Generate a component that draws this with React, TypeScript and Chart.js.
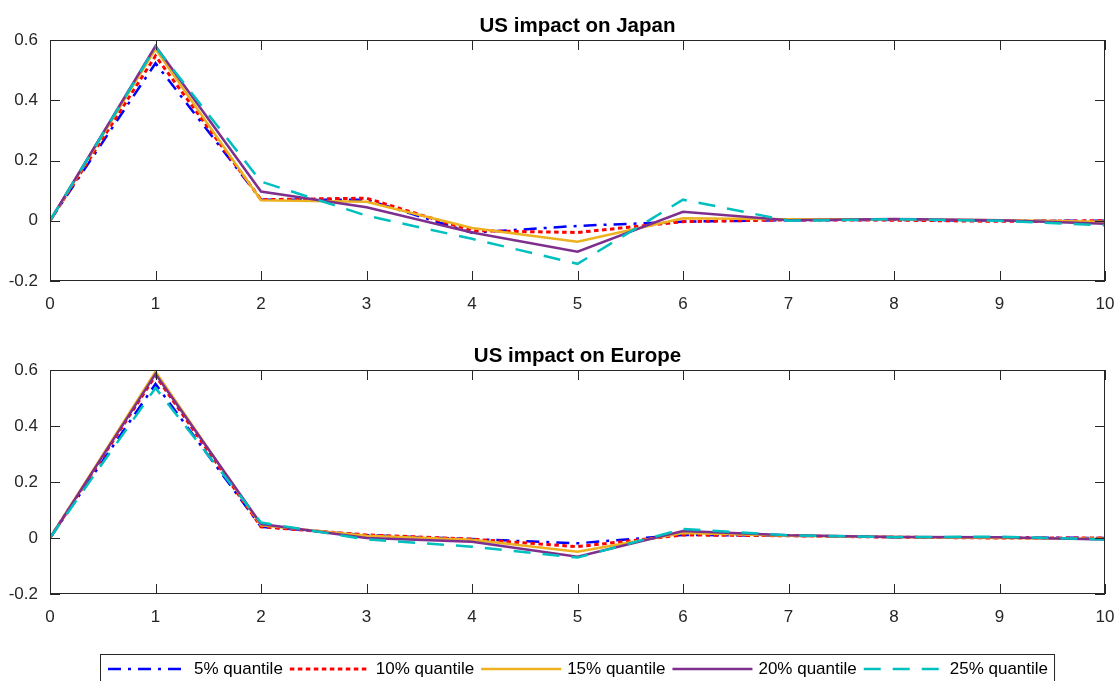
import { useEffect, useRef } from "react";
import { Chart, registerables } from "chart.js";

Chart.register(...registerables);

// Impulse-response horizons and axis ticks
const horizons = [0, 1, 2, 3, 4, 5, 6, 7, 8, 9, 10];
const yTicks = [-0.2, 0, 0.2, 0.4, 0.6];
const seriesNames = ["5% quantile", "10% quantile", "15% quantile", "20% quantile", "25% quantile"];

// US impact on Japan, by quantile
const japanQ5 = [0, 0.523, 0.07, 0.07, -0.04, -0.017, -0.003, 0.002, 0.003, 0.0, 0.0];
const japanQ10 = [0, 0.547, 0.07, 0.075, -0.033, -0.039, -0.003, 0.003, 0.002, -0.002, 0.0];
const japanQ15 = [0, 0.57, 0.068, 0.063, -0.024, -0.07, 0.008, 0.005, 0.005, 0.002, -0.003];
const japanQ20 = [0, 0.58, 0.097, 0.045, -0.039, -0.103, 0.03, 0.002, 0.006, 0.002, -0.01];
const japanQ25 = [0, 0.577, 0.13, 0.017, -0.06, -0.143, 0.07, 0.0, 0.005, 0.0, -0.015];

// US impact on Europe, by quantile
const europeQ5 = [0, 0.55, 0.04, 0.01, -0.004, -0.019, 0.011, 0.008, 0.003, 0.002, 0.0];
const europeQ10 = [0, 0.58, 0.04, 0.011, -0.004, -0.031, 0.011, 0.008, 0.003, 0.0, 0.0];
const europeQ15 = [0, 0.594, 0.045, 0.008, -0.006, -0.049, 0.018, 0.008, 0.004, 0.0, -0.003];
const europeQ20 = [0, 0.586, 0.05, 0.0, -0.013, -0.067, 0.025, 0.01, 0.004, 0.003, -0.005];
const europeQ25 = [0, 0.536, 0.055, -0.005, -0.031, -0.07, 0.032, 0.01, 0.003, 0.005, -0.005];

const lineStyles = [
  { color: "#0000ff", dash: [13, 7, 3, 7], width: 2.5 },
  { color: "#ff0000", dash: [4.5, 3.5], width: 3 },
  { color: "#EDB120", dash: [] as number[], width: 2.5 },
  { color: "#7E2F8E", dash: [] as number[], width: 2.5 },
  { color: "#00BFBF", dash: [17, 12], width: 2.5 },
];

const FONT = "'Liberation Sans', Arial, Helvetica, sans-serif";
const AXIS_COLOR = "#262626";
const TICK_LEN = 10;

// Draws the boxed axes with inward ticks on all four sides, plus the title
function framePlugin(title: string) {
  return {
    id: "frame",
    afterDraw(chart: any) {
      const { ctx, chartArea: a, scales } = chart;
      ctx.save();
      ctx.strokeStyle = AXIS_COLOR;
      ctx.lineWidth = 1;
      ctx.setLineDash([]);
      ctx.strokeRect(a.left + 0.5, a.top + 0.5, a.right - a.left - 1, a.bottom - a.top - 1);
      ctx.beginPath();
      horizons.forEach((h) => {
        const x = Math.round(scales.x.getPixelForValue(h)) + 0.5;
        ctx.moveTo(x, a.bottom);
        ctx.lineTo(x, a.bottom - TICK_LEN);
        ctx.moveTo(x, a.top);
        ctx.lineTo(x, a.top + TICK_LEN);
      });
      yTicks.forEach((t) => {
        const y = Math.round(scales.y.getPixelForValue(t)) + 0.5;
        ctx.moveTo(a.left, y);
        ctx.lineTo(a.left + TICK_LEN, y);
        ctx.moveTo(a.right, y);
        ctx.lineTo(a.right - TICK_LEN, y);
      });
      ctx.stroke();
      ctx.fillStyle = "#000";
      ctx.font = `bold 20.5px ${FONT}`;
      ctx.textAlign = "center";
      ctx.textBaseline = "alphabetic";
      ctx.fillText(title, (a.left + a.right) / 2, a.top - 8);
      ctx.restore();
    },
  };
}

// Horizontal boxed legend centred under the axes
const legendPlugin = {
  id: "quantileLegend",
  afterDraw(chart: any) {
    const { ctx, chartArea: a } = chart;
    const h = chart.height;
    ctx.save();
    ctx.font = `17px ${FONT}`;
    const sample = 80;
    const widths = seriesNames.map((n) => ctx.measureText(n).width);
    const total = 8 + widths.reduce((s, w) => s + sample + 6 + w + 7, 0);
    const boxLeft = Math.round((a.left + a.right) / 2 - total / 2);
    const boxTop = h - 27;
    const midY = boxTop + 15;
    ctx.fillStyle = "#fff";
    ctx.fillRect(boxLeft, boxTop, total, 40);
    ctx.strokeStyle = AXIS_COLOR;
    ctx.lineWidth = 1;
    ctx.strokeRect(boxLeft + 0.5, boxTop + 0.5, total - 1, 40);
    let x = boxLeft + 8;
    seriesNames.forEach((name, i) => {
      const st = lineStyles[i];
      ctx.beginPath();
      ctx.strokeStyle = st.color;
      ctx.lineWidth = st.width;
      ctx.setLineDash(st.dash);
      ctx.moveTo(x, midY);
      ctx.lineTo(x + sample, midY);
      ctx.stroke();
      ctx.setLineDash([]);
      ctx.fillStyle = "#000";
      ctx.textAlign = "left";
      ctx.textBaseline = "middle";
      ctx.fillText(name, x + sample + 6, midY);
      x += sample + 6 + widths[i] + 7;
    });
    ctx.restore();
  },
};

function buildChart(
  canvas: HTMLCanvasElement,
  title: string,
  series: number[][],
  padTop: number,
  padBottom: number,
  withLegend: boolean
) {
  const tickFont = { family: FONT, size: 17 };
  return new Chart(canvas, {
    type: "line",
    data: {
      datasets: series.map((vals, i) => ({
        label: seriesNames[i],
        data: vals.map((v, k) => ({ x: horizons[k], y: v })),
        borderColor: lineStyles[i].color,
        borderDash: lineStyles[i].dash,
        borderWidth: lineStyles[i].width,
        borderCapStyle: "butt" as const,
        pointRadius: 0,
        fill: false,
        tension: 0,
        order: 5 - i,
      })),
    },
    options: {
      animation: false,
      responsive: false,
      events: [],
      layout: { padding: { left: 0, right: 11, top: padTop, bottom: padBottom } },
      plugins: {
        legend: { display: false },
        tooltip: { enabled: false },
        title: { display: false },
      },
      scales: {
        x: {
          type: "linear",
          min: 0,
          max: 10,
          grid: { display: false, drawTicks: false },
          border: { display: false },
          ticks: { color: AXIS_COLOR, font: tickFont, padding: 13, maxRotation: 0, autoSkip: false },
          afterBuildTicks: (s: any) => {
            s.ticks = horizons.map((v) => ({ value: v }));
          },
          afterFit: (s: any) => {
            s.height = 30;
            s.paddingLeft = 0;
            s.paddingRight = 0;
          },
        },
        y: {
          type: "linear",
          min: -0.2,
          max: 0.6,
          grid: { display: false, drawTicks: false },
          border: { display: false },
          ticks: {
            color: AXIS_COLOR,
            font: tickFont,
            padding: 12,
            callback: (v: any) => String(Number(Number(v).toFixed(1))),
          },
          afterBuildTicks: (s: any) => {
            s.ticks = yTicks.map((v) => ({ value: v }));
          },
          afterFit: (s: any) => {
            s.width = 50;
            s.paddingTop = 0;
            s.paddingBottom = 0;
          },
        },
      },
    } as any,
    plugins: withLegend ? [framePlugin(title), legendPlugin] : [framePlugin(title)],
  });
}

export default function App() {
  const topRef = useRef<HTMLCanvasElement>(null);
  const bottomRef = useRef<HTMLCanvasElement>(null);

  useEffect(() => {
    const japan = buildChart(
      topRef.current!,
      "US impact on Japan",
      [japanQ5, japanQ10, japanQ15, japanQ20, japanQ25],
      40,
      9,
      false
    );
    const europe = buildChart(
      bottomRef.current!,
      "US impact on Europe",
      [europeQ5, europeQ10, europeQ15, europeQ20, europeQ25],
      50,
      57,
      true
    );
    return () => {
      japan.destroy();
      europe.destroy();
    };
  }, []);

  return (
    <div
      style={{
        position: "absolute",
        left: 0,
        top: 0,
        width: 1116,
        height: 681,
        background: "#fff",
        overflow: "hidden",
      }}
    >
      <canvas
        ref={topRef}
        width={1116}
        height={320}
        style={{ position: "absolute", left: 0, top: 0, width: 1116, height: 320 }}
      />
      <canvas
        ref={bottomRef}
        width={1116}
        height={361}
        style={{ position: "absolute", left: 0, top: 320, width: 1116, height: 361 }}
      />
    </div>
  );
}
